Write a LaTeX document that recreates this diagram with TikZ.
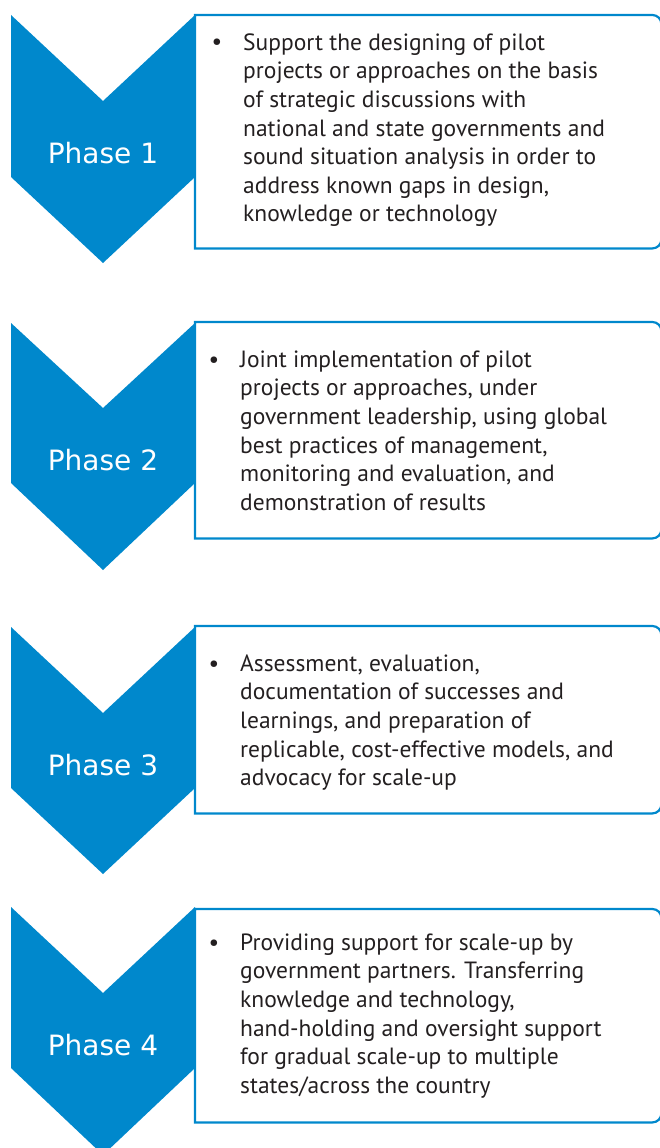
\documentclass[tikz,border=0pt]{standalone}
\usepackage{fontspec}
\setmainfont{PT Sans}
\newfontfamily\phasefont{DejaVu Sans}
\definecolor{phaseblue}{RGB}{0,136,204}
\definecolor{bodytext}{RGB}{35,31,32}
\begin{document}
\begin{tikzpicture}[x=1pt, y=-1pt,
  chev/.style={fill=phaseblue},
  phase label/.style={anchor=base, text=white, inner sep=0pt, font=\phasefont\fontsize{28}{32}\selectfont},
  box line/.style={draw=phaseblue, line width=2.2pt},
  frame/.style={anchor=north west, draw=none, minimum width=466pt, inner sep=0pt},
  bullet/.style={anchor=base, inner sep=0pt, text=bodytext, font=\fontsize{23.5}{28.6}\selectfont},
  % north west sits one strut height (20pt) above the first baseline
  item text/.style={anchor=north west, align=left, inner sep=0pt, text=bodytext, font=\fontsize{23.5}{28.6}\selectfont}]
\useasboundingbox (0,0) rectangle (659,1148);

% phase 1
\fill[chev] (11,15) -- (103,101) -- (195,15) -- (195,177) -- (103,263) -- (11,177) -- cycle;
\node[phase label] (p1) at (103,163) {Phase 1};
\node[frame, minimum height=233pt] (b1) at (195,15) {};
\draw[box line] (b1.south west) -- (b1.north west) -- ([xshift=-9pt]b1.north east) arc[start angle=90, end angle=0, radius=9pt]
  -- ([yshift=9pt]b1.south east) arc[start angle=0, end angle=-90, radius=9pt] -- cycle;
\node[bullet] (d1) at (217,50) {\textbullet};
\node[item text] (t1) at (243,30) {\strut Support the designing of pilot\\projects or approaches on the basis\\of strategic discussions with\\national and state governments and\\sound situation analysis in order to\\address known gaps in design,\\knowledge or technology};

% phase 2
\fill[chev] (11,323) -- (103,408) -- (195,323) -- (195,483) -- (103,570) -- (11,483) -- cycle;
\node[phase label] (p2) at (103,470) {Phase 2};
\node[frame, minimum height=216pt] (b2) at (195,322) {};
\draw[box line] (b2.south west) -- (b2.north west) -- ([xshift=-9pt]b2.north east) arc[start angle=90, end angle=0, radius=9pt]
  -- ([yshift=9pt]b2.south east) arc[start angle=0, end angle=-90, radius=9pt] -- cycle;
\node[bullet] (d2) at (214,367) {\textbullet};
\node[item text] (t2) at (240,347) {\strut Joint implementation of pilot\\projects or approaches, under\\government leadership, using global\\best practices of management,\\monitoring and evaluation, and\\demonstration of results};

% phase 3
\fill[chev] (11,627) -- (103,713) -- (195,627) -- (195,788) -- (103,874) -- (11,788) -- cycle;
\node[phase label] (p3) at (103,775) {Phase 3};
\node[frame, minimum height=187pt] (b3) at (195,626) {};
\draw[box line] (b3.south west) -- (b3.north west) -- ([xshift=-9pt]b3.north east) arc[start angle=90, end angle=0, radius=9pt]
  -- ([yshift=9pt]b3.south east) arc[start angle=0, end angle=-90, radius=9pt] -- cycle;
\node[bullet] (d3) at (214,671) {\textbullet};
\node[item text] (t3) at (240,651) {\strut Assessment, evaluation,\\documentation of successes and\\learnings, and preparation of\\replicable, cost-effective models, and\\advocacy for scale-up};

% phase 4
\fill[chev] (11,907) -- (103,993) -- (195,907) -- (195,1068) -- (103,1155) -- (11,1068) -- cycle;
\node[phase label] (p4) at (103,1055) {Phase 4};
\node[frame, minimum height=213pt] (b4) at (195,909) {};
\draw[box line] (b4.south west) -- (b4.north west) -- ([xshift=-9pt]b4.north east) arc[start angle=90, end angle=0, radius=9pt]
  -- ([yshift=9pt]b4.south east) arc[start angle=0, end angle=-90, radius=9pt] -- cycle;
\node[bullet] (d4) at (214,950) {\textbullet};
\node[item text] (t4) at (240,930) {\strut Providing support for scale-up by\\government partners. Transferring\\knowledge and technology,\\hand-holding and oversight support\\for gradual scale-up to multiple\\states/across the country};
\end{tikzpicture}
\end{document}
